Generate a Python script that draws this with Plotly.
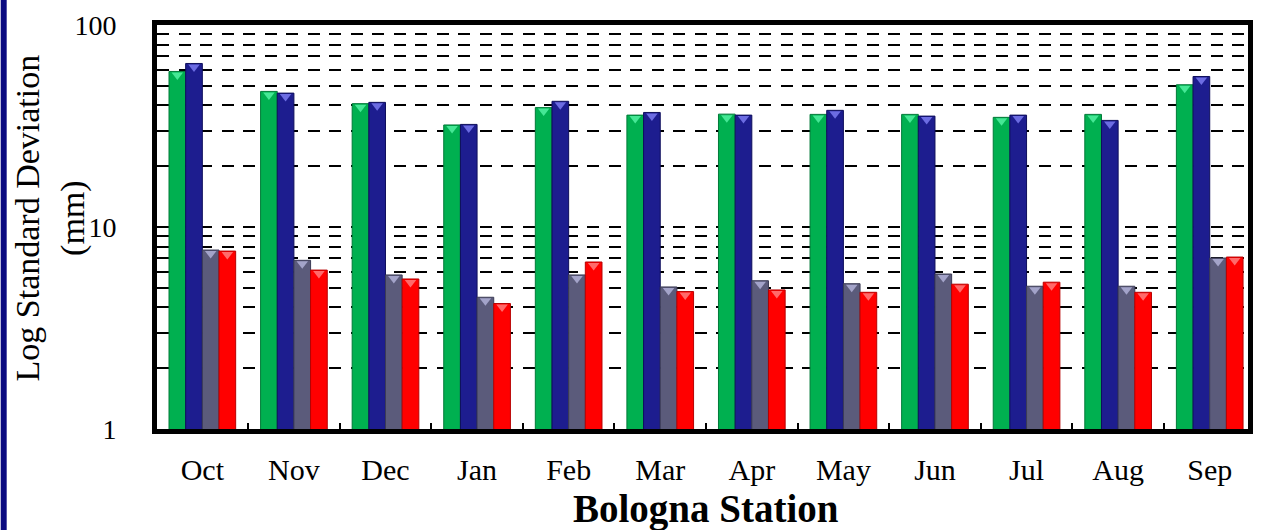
import plotly.graph_objects as go

# Monthly log standard deviation (mm), Bologna station
months = ["Oct", "Nov", "Dec", "Jan", "Feb", "Mar", "Apr", "May", "Jun", "Jul", "Aug", "Sep"]
series_a = [58.9, 46.9, 40.8, 32.0, 39.0, 35.8, 36.2, 36.1, 36.1, 34.9, 36.1, 50.6]
series_b = [64.5, 46.0, 41.4, 32.2, 41.9, 36.9, 35.8, 37.8, 35.4, 35.8, 33.7, 55.6]
series_c = [7.69, 6.84, 5.79, 4.49, 5.79, 5.05, 5.42, 5.24, 5.85, 5.09, 5.09, 7.02]
series_d = [7.60, 6.12, 5.53, 4.18, 6.71, 4.79, 4.88, 4.75, 5.21, 5.33, 4.75, 7.10]

W, H = 1262, 530
ML, MR, MT, MB = 157, 9, 25, 101
plot_w = W - ML - MR
plot_h = H - MT - MB
px_per_decade = plot_h / 2.0

FONT = "Liberation Serif"
GAP = 0.272

styles = [
    ("Series A", series_a, "#00b050", "#007a38", "#45e795"),
    ("Series B", series_b, "#1d1d8f", "#0e0e5c", "#6c6ce2"),
    ("Series C", series_c, "#5b5b7b", "#3c3c56", "#a3a3c9"),
    ("Series D", series_d, "#ff0000", "#b80000", "#ff6a6a"),
]

fig = go.Figure()
tri_size = 10
# shift so the bevel triangle sits just under the top edge of its bar
tri_shift = 10 ** (-(tri_size * 0.25 + 1.0) / px_per_decade)

for i, (name, vals, fill, edge, light) in enumerate(styles):
    fig.add_trace(go.Bar(
        x=months, y=vals, name=name, offsetgroup=f"g{i}",
        marker=dict(color=fill, line=dict(color=edge, width=1)),
        showlegend=False,
    ))
for i, (name, vals, fill, edge, light) in enumerate(styles):
    fig.add_trace(go.Scatter(
        x=months, y=[v * tri_shift for v in vals], name=name, offsetgroup=f"g{i}",
        mode="markers",
        marker=dict(symbol="triangle-down", size=tri_size, color=light, line=dict(width=0)),
        showlegend=False, hoverinfo="skip",
    ))

dash = "12px,9.5px"
fig.update_layout(
    width=W, height=H,
    margin=dict(l=ML, r=MR, t=MT, b=MB),
    paper_bgcolor="white", plot_bgcolor="white",
    barmode="group", bargap=GAP, bargroupgap=0,
    scattermode="group", scattergap=GAP,
    font=dict(family=FONT, color="black"),
    xaxis=dict(
        type="category", range=[-0.495, 11.418],
        showline=True, linecolor="black", linewidth=5, mirror=True,
        ticks="inside", tickson="boundaries", ticklen=6, tickwidth=1.5, tickcolor="black",
        tickfont=dict(family=FONT, size=30, color="black"),
        ticklabelstandoff=10,
        showgrid=False, zeroline=False,
    ),
    yaxis=dict(
        type="log", range=[0, 2],
        showline=True, linecolor="black", linewidth=5, mirror=True,
        ticks="", tickvals=[1, 10, 100], ticktext=["1", "10", "100"],
        tickfont=dict(family=FONT, size=28, color="black"),
        ticklabelstandoff=30,
        showgrid=True, gridcolor="black", gridwidth=2, griddash=dash,
        minor=dict(tickvals=[2, 3, 4, 5, 6, 7, 8, 9, 20, 30, 40, 50, 60, 70, 80, 90],
                   showgrid=True, gridcolor="black", gridwidth=2, griddash=dash, ticks=""),
        zeroline=False,
    ),
)

# y-axis title (two lines)
fig.add_annotation(
    xref="paper", yref="paper",
    x=(50 - ML) / plot_w, y=(429 - 218) / plot_h,
    text="Log Standard Deviation<br>(mm)", textangle=-90,
    showarrow=False, xanchor="center", yanchor="middle",
    font=dict(family=FONT, size=34, color="black"),
)
# x-axis title
fig.add_annotation(
    xref="paper", yref="paper",
    x=(709 - ML) / plot_w, y=(429 - 509) / plot_h,
    text="<b>Bologna Station</b>", showarrow=False,
    xanchor="center", yanchor="middle",
    font=dict(family=FONT, size=39, color="black"),
)
# navy strip on the left edge of the page
fig.add_shape(
    type="rect", xref="paper", yref="paper",
    x0=(0 - ML) / plot_w, x1=(6 - ML) / plot_w,
    y0=-(MB / plot_h), y1=1 + MT / plot_h,
    fillcolor="#0a0a80", line=dict(width=0), layer="above",
)

fig.write_html("out.html")
